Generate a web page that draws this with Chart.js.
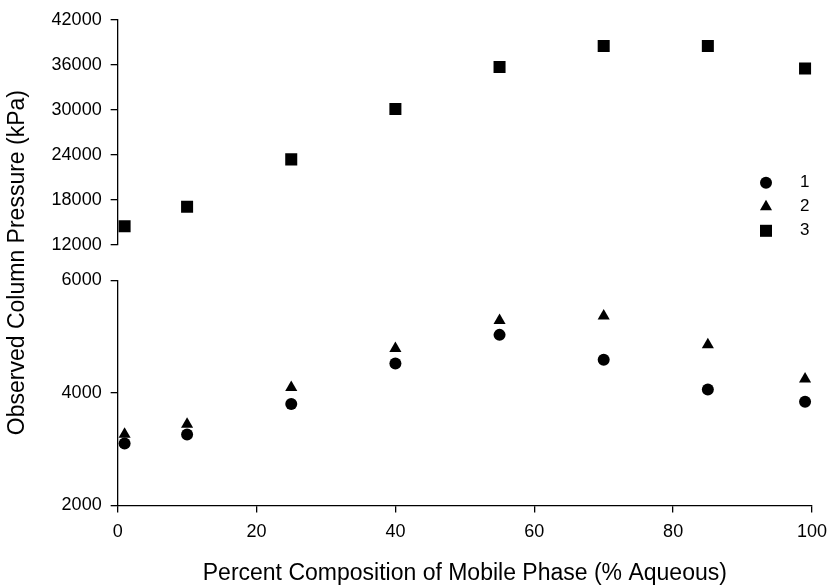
<!DOCTYPE html>
<html>
<head>
<meta charset="utf-8">
<script src="https://cdn.jsdelivr.net/npm/chart.js@4.4.1/dist/chart.umd.min.js"></script>
<style>
  body { margin: 0; background: #fff; }
  #wrap { width: 830px; height: 585px; }
</style>
</head>
<body>
<div id="wrap"><canvas id="pressureChart" width="830" height="585"></canvas></div>
<script>
// % aqueous in the mobile phase
const composition = [1, 10, 25, 40, 55, 70, 85, 99];
// observed pressure (kPa) for each column
const column1 = [3100, 3260, 3800, 4520, 5030, 4590, 4060, 3840];
const column2 = [3265, 3440, 4095, 4790, 5285, 5365, 4855, 4245];
const column3 = [14500, 17100, 23400, 30100, 35700, 38500, 38500, 35500];

const seriesNames = ['1', '2', '3'];
const xTicks = [0, 20, 40, 60, 80, 100];
const upperTicks = [12000, 18000, 24000, 30000, 36000, 42000];
const lowerTicks = [2000, 4000, 6000];

Chart.defaults.font.family = 'Arial, "Liberation Sans", sans-serif';
Chart.defaults.color = '#000';

function points(ys) {
    return composition.map((x, i) => ({ x: x, y: ys[i] }));
}

function fixedTicks(list) {
    return (axis) => { axis.ticks = list.map(v => ({ value: v })); };
}

const plainLabel = (v) => String(v);
const axisGrid = { display: true, drawOnChartArea: false, drawTicks: true, tickLength: 7, color: '#000', lineWidth: 1.3 };
const axisBorder = { display: true, color: '#000', width: 1.3 };
const hiddenAxis = { grid: { display: false }, border: { display: false }, ticks: { display: false } };

// little legend drawn inside the plot, right side
const legendBox = {
    id: 'legendBox',
    afterDraw(chart) {
        const ctx = chart.ctx;
        const area = chart.chartArea;
        ctx.save();
        ctx.font = '17px Arial, "Liberation Sans", sans-serif';
        ctx.textBaseline = 'middle';
        chart.data.datasets.forEach((ds, i) => {
            const y = area.top + 163 + i * 24;
            ctx.fillStyle = '#000';
            Chart.helpers.drawPoint(ctx, {
                pointStyle: ds.pointStyle,
                radius: ds.pointRadius,
                rotation: 0,
                borderWidth: 0
            }, area.right - 46, y);
            ctx.fillStyle = '#000';
            ctx.fillText(seriesNames[i], area.right - 12, y);
        });
        ctx.restore();
    }
};

const ctx = document.getElementById('pressureChart').getContext('2d');
const pressureChart = new Chart(ctx, {
    type: 'scatter',
    data: {
        datasets: [
            { label: seriesNames[0], data: points(column1), yAxisID: 'yLow', pointStyle: 'circle', pointRadius: 6, backgroundColor: '#000', borderWidth: 0 },
            { label: seriesNames[1], data: points(column2), yAxisID: 'yLow', pointStyle: 'triangle', pointRadius: 7, backgroundColor: '#000', borderWidth: 0 },
            { label: seriesNames[2], data: points(column3), yAxisID: 'yHigh', pointStyle: 'rect', pointRadius: 8.5, backgroundColor: '#000', borderWidth: 0 }
        ]
    },
    options: {
        responsive: false,
        devicePixelRatio: 1,
        animation: false,
        layout: { padding: { left: 4, right: 8, top: 12, bottom: 0 } },
        plugins: { legend: { display: false }, tooltip: { enabled: false } },
        scales: {
            x: {
                type: 'linear', min: 0, max: 100,
                afterBuildTicks: fixedTicks(xTicks),
                // let the "100" label hang past the plot edge
                afterFit: (axis) => { axis.paddingRight = 18; },
                grid: axisGrid, border: axisBorder,
                ticks: { font: { size: 18 }, padding: 9, callback: plainLabel },
                title: { display: true, text: 'Percent Composition of Mobile Phase (% Aqueous)', font: { size: 23, lineHeight: 1.0 }, padding: { top: 10, bottom: 0 } }
            },
            // broken y axis: low range at the bottom, a blank gap, high range on top
            yLow: {
                type: 'linear', position: 'left', stack: 'pressure', stackWeight: 224.7,
                min: 2000, max: 6000,
                afterBuildTicks: fixedTicks(lowerTicks),
                grid: axisGrid, border: axisBorder,
                ticks: { font: { size: 18 }, padding: 9, callback: plainLabel }
            },
            yGap: Object.assign({ type: 'linear', position: 'left', stack: 'pressure', stackWeight: 35.3 }, hiddenAxis),
            yHigh: {
                type: 'linear', position: 'left', stack: 'pressure', stackWeight: 224.7,
                min: 12000, max: 42000,
                afterBuildTicks: fixedTicks(upperTicks),
                grid: axisGrid, border: axisBorder,
                ticks: { font: { size: 18 }, padding: 9, callback: plainLabel }
            },
            // carries the shared y title across both ranges
            yTitle: Object.assign({
                type: 'linear', position: 'left',
                title: { display: true, text: 'Observed Column Pressure (kPa)', font: { size: 23 }, padding: { top: 0, bottom: 3 } }
            }, hiddenAxis)
        }
    },
    plugins: [legendBox]
});
</script>
</body>
</html>
